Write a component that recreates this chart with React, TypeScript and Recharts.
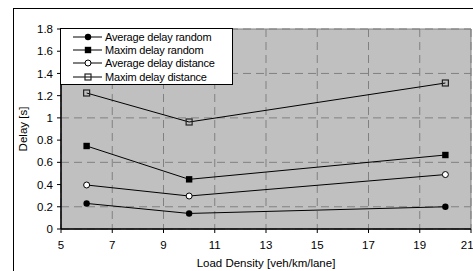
import {
  LineChart,
  Line,
  XAxis,
  YAxis,
  CartesianGrid,
  Legend,
  ReferenceArea,
} from "recharts";

const densities = [6, 10, 20];
const avgDelayRandom = [0.23, 0.14, 0.2];
const maxDelayRandom = [0.747, 0.447, 0.666];
const avgDelayDistance = [0.396, 0.297, 0.49];
const maxDelayDistance = [1.224, 0.963, 1.314];

const xTicks = [5, 7, 9, 11, 13, 15, 17, 19, 21];
const yTicks = [0, 0.2, 0.4, 0.6, 0.8, 1, 1.2, 1.4, 1.6, 1.8];

type MarkerKind = "dot" | "square" | "openDot" | "openSquare";

interface SeriesConfig {
  key: string;
  name: string;
  marker: MarkerKind;
}

const SERIES: SeriesConfig[] = [
  { key: "avgRandom", name: "Average delay random", marker: "dot" },
  { key: "maxRandom", name: "Maxim delay random", marker: "square" },
  { key: "avgDistance", name: "Average delay distance", marker: "openDot" },
  { key: "maxDistance", name: "Maxim delay distance", marker: "openSquare" },
];

const data = densities.map((d, i) => ({
  density: d,
  avgRandom: avgDelayRandom[i],
  maxRandom: maxDelayRandom[i],
  avgDistance: avgDelayDistance[i],
  maxDistance: maxDelayDistance[i],
}));

const FONT = "'Liberation Sans', Arial, sans-serif";

function Marker({ kind, cx, cy }: { kind: MarkerKind; cx: number; cy: number }) {
  if (kind === "dot") return <circle cx={cx} cy={cy} r={3.2} fill="#000" />;
  if (kind === "openDot")
    return <circle cx={cx} cy={cy} r={3} fill="#fff" stroke="#000" strokeWidth={1} />;
  if (kind === "square")
    return <rect x={cx - 3.2} y={cy - 3.2} width={6.4} height={6.4} fill="#000" />;
  return (
    <rect
      x={cx - 3}
      y={cy - 3}
      width={6}
      height={6}
      fill="none"
      stroke="#222"
      strokeWidth={1.2}
    />
  );
}

function makeDot(kind: MarkerKind) {
  return (props: any) => {
    const { cx, cy, index } = props;
    if (cx == null || cy == null) return <g key={index} />;
    return (
      <g key={index}>
        <Marker kind={kind} cx={cx} cy={cy} />
      </g>
    );
  };
}

function LegendBox() {
  return (
    <div
      style={{
        width: 173,
        height: 57,
        background: "#fff",
        border: "1px solid #000",
        boxSizing: "border-box",
        fontFamily: FONT,
        fontSize: 11,
        paddingTop: 1,
      }}
    >
      {SERIES.map((s) => (
        <div key={s.key} style={{ display: "flex", alignItems: "center", height: 13.3 }}>
          <svg width={44} height={12} style={{ display: "block" }}>
            <line x1={12} y1={6} x2={41} y2={6} stroke="#000" strokeWidth={1} />
            <Marker kind={s.marker} cx={27} cy={6} />
          </svg>
          <span style={{ color: "#000", whiteSpace: "nowrap", letterSpacing: -0.2 }}>
            {s.name}
          </span>
        </div>
      ))}
    </div>
  );
}

export default function App() {
  return (
    <div
      style={{
        position: "absolute",
        left: 0,
        top: 0,
        width: 473,
        height: 271,
        background: "#fff",
        overflow: "hidden",
      }}
    >
      <div
        style={{
          position: "absolute",
          left: 13,
          top: 8,
          width: 500,
          height: 300,
          border: "1px solid #000",
        }}
      />
      <LineChart
        width={473}
        height={271}
        data={data}
        margin={{ top: 29, right: 2, bottom: 0, left: 0 }}
        style={{ position: "absolute", left: 0, top: 0 }}
      >
        <CartesianGrid fill="#c0c0c0" stroke="#808080" strokeDasharray="8 5" />
        <ReferenceArea
          x1={5}
          x2={21}
          y1={0}
          y2={1.8}
          fill="none"
          stroke="#808080"
          strokeWidth={1}
          ifOverflow="extendDomain"
        />
        <XAxis
          dataKey="density"
          type="number"
          domain={[5, 21]}
          ticks={xTicks}
          allowDataOverflow
          height={42}
          tickSize={4}
          tickMargin={8}
          axisLine={{ stroke: "#000", strokeWidth: 1.5 }}
          tickLine={{ stroke: "#000" }}
          tick={{ fill: "#000", fontSize: 11.5, fontFamily: FONT }}
          label={{
            value: "Load Density [veh/km/lane]",
            position: "insideBottom",
            offset: 4,
            fill: "#000",
            fontSize: 11.5,
            fontFamily: FONT,
          }}
        />
        <YAxis
          type="number"
          domain={[0, 1.8]}
          ticks={yTicks}
          width={61}
          tickSize={4}
          tickMargin={4}
          axisLine={{ stroke: "#000", strokeWidth: 1.5 }}
          tickLine={{ stroke: "#000" }}
          tick={{ fill: "#000", fontSize: 11.5, fontFamily: FONT }}
          label={{
            value: "Delay [s]",
            angle: -90,
            position: "insideLeft",
            offset: 23,
            style: { textAnchor: "middle" },
            fill: "#000",
            fontSize: 11.5,
            fontFamily: FONT,
          }}
        />
        <Legend
          layout="horizontal"
          verticalAlign="middle"
          align="center"
          wrapperStyle={{ left: 60, top: 28, width: 173, height: 57 }}
          content={() => <LegendBox />}
        />
        {SERIES.map((s) => (
          <Line
            key={s.key}
            dataKey={s.key}
            name={s.name}
            type="linear"
            stroke="#000"
            strokeWidth={1}
            dot={makeDot(s.marker)}
            activeDot={false}
            isAnimationActive={false}
          />
        ))}
      </LineChart>
    </div>
  );
}
